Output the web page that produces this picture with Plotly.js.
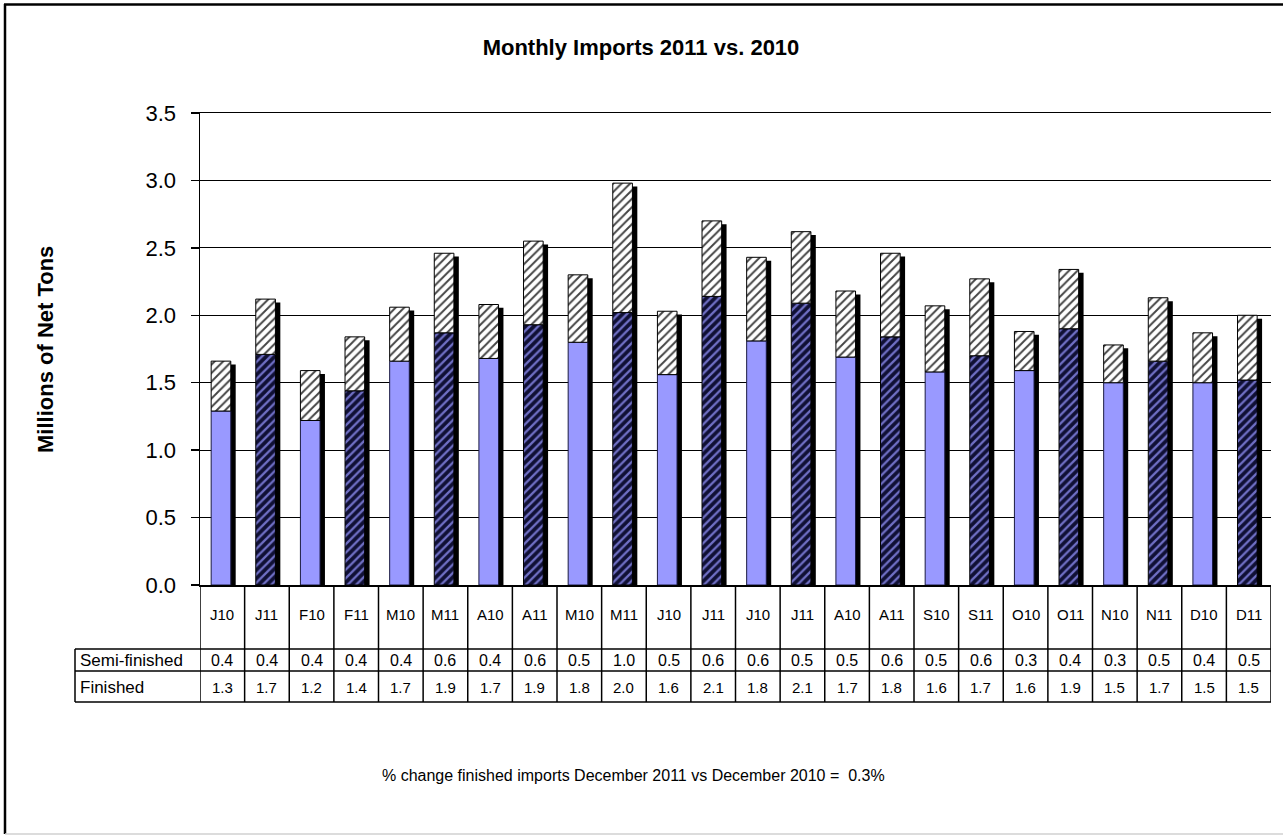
<!DOCTYPE html>
<html>
<head>
<meta charset="utf-8">
<script src="https://cdn.plot.ly/plotly-3.0.1.min.js"></script>
<style>
html,body{margin:0;padding:0;background:#fff;}
#chart{width:1283px;height:835px;}
</style>
</head>
<body>
<div id="chart"></div>
<script>
// ---- data ----
const categories = ['J10','J11','F10','F11','M10','M11','A10','A11','M10','M11','J10','J11','J10','J11','A10','A11','S10','S11','O10','O11','N10','N11','D10','D11'];
const finished = [1.29,1.71,1.22,1.44,1.66,1.87,1.68,1.93,1.80,2.02,1.56,2.14,1.81,2.09,1.69,1.84,1.58,1.70,1.59,1.90,1.50,1.66,1.50,1.52];
const semiFinished = [0.37,0.41,0.37,0.40,0.40,0.59,0.40,0.62,0.50,0.96,0.47,0.56,0.62,0.53,0.49,0.62,0.49,0.57,0.29,0.44,0.28,0.47,0.37,0.48];
const yTicks = [0,0.5,1.0,1.5,2.0,2.5,3.0,3.5];
const rowLabels = ['Semi-finished','Finished'];
const chartTitle = 'Monthly Imports 2011 vs. 2010';
const yTitle = 'Millions of Net Tons';
const footnote = '% change finished imports December 2011 vs December 2010 =  0.3%';

// ---- layout geometry (pixels) ----
const W = 1283, H = 835;
const L = 200, R = 1271, T = 113, B = 585;
const pw = R - L, ph = B - T;
const px = x => (x - L) / pw;
const py = y => (B - y) / ph;
const FONT = 'Liberation Sans, Arial, sans-serif';

const xs = categories.map((c, i) => i);
const totals = finished.map((f, i) => f + semiFinished[i]);
const is2011 = categories.map(c => c.endsWith('11'));

const barW = 0.44, barOff = -0.25, shadowDx = 0.11, shadowDy = 0.025;

const idx10 = xs.filter(i => !is2011[i]);
const idx11 = xs.filter(i => is2011[i]);

const traces = [
  { // shadow
    type: 'bar', x: xs, y: totals.map(t => t - shadowDy), base: 0,
    width: barW, offset: barOff + shadowDx,
    marker: { color: '#000', line: { width: 0 } }, hoverinfo: 'skip'
  },
  { // finished 2010
    type: 'bar', x: idx10, y: idx10.map(i => finished[i]), base: 0,
    width: barW, offset: barOff,
    marker: { color: '#9999FF', line: { color: '#1a1a40', width: 1 } }, hoverinfo: 'skip'
  },
  { // finished 2011
    type: 'bar', x: idx11, y: idx11.map(i => finished[i]), base: 0,
    width: barW, offset: barOff,
    marker: { color: '#101035', line: { color: '#000', width: 1 },
      pattern: { shape: '/', bgcolor: '#101035', fgcolor: '#6f6fc4', size: 6, solidity: 0.38 } },
    hoverinfo: 'skip'
  },
  { // semi-finished
    type: 'bar', x: xs, y: semiFinished, base: finished,
    width: barW, offset: barOff,
    marker: { color: '#ffffff', line: { color: '#000', width: 1 },
      pattern: { shape: '/', bgcolor: '#ffffff', fgcolor: '#444', size: 6, solidity: 0.32 } },
    hoverinfo: 'skip'
  }
];

// ---- table ----
const shapes = [];
const annotations = [];
const rowTop = 649, rowMid = 671, rowBot = 702;
for (let i = 0; i <= categories.length; i++) {
  shapes.push({ type: 'line', xref: 'x', yref: 'paper', x0: i - 0.5, x1: i - 0.5,
    y0: py(B), y1: py(rowBot), line: { color: '#000', width: 1.5 } });
}
[rowTop, rowMid, rowBot].forEach(y => {
  shapes.push({ type: 'line', xref: 'paper', yref: 'paper', x0: px(75), x1: 1,
    y0: py(y), y1: py(y), line: { color: '#000', width: 1.5 } });
});
shapes.push({ type: 'line', xref: 'paper', yref: 'paper', x0: px(75), x1: px(75),
  y0: py(rowTop), y1: py(rowBot), line: { color: '#000', width: 1.5 } });

categories.forEach((c, i) => {
  annotations.push({ xref: 'x', yref: 'paper', x: i, y: py(614), text: c, showarrow: false,
    xanchor: 'center', yanchor: 'middle', font: { family: FONT, size: 15, color: '#000' } });
  annotations.push({ xref: 'x', yref: 'paper', x: i, y: py(660), text: semiFinished[i].toFixed(1), showarrow: false,
    xanchor: 'center', yanchor: 'middle', font: { family: FONT, size: 16, color: '#000' } });
  annotations.push({ xref: 'x', yref: 'paper', x: i, y: py(687), text: finished[i].toFixed(1), showarrow: false,
    xanchor: 'center', yanchor: 'middle', font: { family: FONT, size: 15, color: '#000' } });
});
annotations.push({ xref: 'paper', yref: 'paper', x: px(78), y: py(660), text: rowLabels[0], showarrow: false,
  xanchor: 'left', yanchor: 'middle', font: { family: FONT, size: 17, color: '#000' } });
annotations.push({ xref: 'paper', yref: 'paper', x: px(78), y: py(687), text: rowLabels[1], showarrow: false,
  xanchor: 'left', yanchor: 'middle', font: { family: FONT, size: 17, color: '#000' } });

// y-axis title
annotations.push({ xref: 'paper', yref: 'paper', x: px(45), y: py(350), text: '<b>' + yTitle + '</b>',
  textangle: -90, showarrow: false, xanchor: 'center', yanchor: 'middle',
  font: { family: FONT, size: 22, color: '#000' } });
// footnote
annotations.push({ xref: 'paper', yref: 'paper', x: px(633), y: py(775), text: footnote,
  showarrow: false, xanchor: 'center', yanchor: 'middle',
  font: { family: FONT, size: 16, color: '#000' } });

// outer frame
shapes.push({ type: 'line', xref: 'paper', yref: 'paper', x0: px(5), x1: px(5), y0: py(4), y1: py(834),
  line: { color: '#000', width: 2.5 } });
shapes.push({ type: 'line', xref: 'paper', yref: 'paper', x0: px(4), x1: px(1290), y0: py(4.5), y1: py(4.5),
  line: { color: '#000', width: 2.5 } });
shapes.push({ type: 'line', xref: 'paper', yref: 'paper', x0: px(5), x1: px(1290), y0: py(834), y1: py(834),
  line: { color: '#d0d0d0', width: 1.5 } });

const layout = {
  width: W, height: H,
  margin: { l: L, r: W - R, t: T, b: H - B, pad: 0 },
  paper_bgcolor: '#fff', plot_bgcolor: '#fff',
  barmode: 'overlay', showlegend: false, hovermode: false,
  title: { text: '<b>' + chartTitle + '</b>', x: 641 / W, xanchor: 'center', y: 1 - 47 / H, yanchor: 'middle',
    font: { family: FONT, size: 22, color: '#000' } },
  xaxis: { range: [-0.5, categories.length - 0.5], showgrid: false, zeroline: false,
    showticklabels: false, ticks: '', showline: true, mirror: true, linecolor: '#000', linewidth: 1.5, fixedrange: true },
  yaxis: { range: [0, 3.5], tickvals: yTicks, ticktext: yTicks.map(v => v.toFixed(1)),
    ticks: 'outside', ticklen: 8, tickcolor: '#000', tickwidth: 1.5, ticklabelstandoff: 10,
    showgrid: true, gridcolor: '#000', gridwidth: 1.2, zeroline: false,
    showline: true, linecolor: '#000', linewidth: 1.5,
    tickfont: { family: FONT, size: 22, color: '#000' }, fixedrange: true },
  shapes: shapes,
  annotations: annotations
};

Plotly.newPlot('chart', traces, layout, { displayModeBar: false, staticPlot: true });
</script>
</body>
</html>
